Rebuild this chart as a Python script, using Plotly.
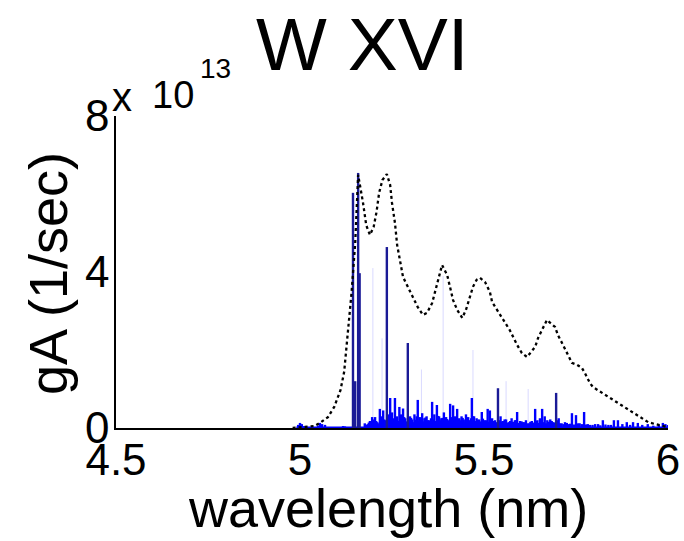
import plotly.graph_objects as go

# Strong W XVI transitions: wavelength (nm) and gA (units of 1e13 1/sec)
strong_wl = [5.144, 5.150, 5.158, 5.162, 5.236, 5.293, 5.538, 5.696]
strong_ga = [6.03, 1.20, 6.54, 3.97, 4.64, 2.18, 1.02, 0.90]

# Weaker transitions
weak_wl = [4.995, 5.000, 5.005, 5.010, 5.049, 5.054, 5.060, 5.068, 5.117, 5.122,
           5.176, 5.184, 5.190, 5.196, 5.200, 5.204, 5.210, 5.217, 5.222, 5.226,
           5.231, 5.242, 5.245, 5.250, 5.258, 5.263, 5.270, 5.275, 5.280, 5.286,
           5.299, 5.305, 5.311, 5.320, 5.326, 5.332, 5.338, 5.344, 5.350, 5.359,
           5.365, 5.372, 5.378, 5.384, 5.391, 5.397, 5.403, 5.408, 5.416, 5.421,
           5.427, 5.433, 5.439, 5.445, 5.451, 5.457, 5.462, 5.467, 5.473, 5.480,
           5.487, 5.494, 5.501, 5.510, 5.516, 5.522, 5.530, 5.545, 5.552, 5.560,
           5.568, 5.575, 5.584, 5.590, 5.598, 5.606, 5.614, 5.622, 5.630, 5.639,
           5.645, 5.652, 5.658, 5.665, 5.672, 5.680, 5.688, 5.703, 5.711, 5.720,
           5.730, 5.739, 5.750, 5.760, 5.772, 5.782, 5.795, 5.810, 5.823, 5.838,
           5.853, 5.864, 5.876, 5.888, 5.897, 5.905, 5.918, 5.930, 5.945, 5.960,
           5.975, 5.986, 5.993, 6.000, 6.005,
           5.179, 5.187, 5.193, 5.207, 5.213, 5.229, 5.234, 5.239, 5.253, 5.267,
           5.272, 5.283, 5.289, 5.296, 5.302, 5.308, 5.314, 5.317, 5.323, 5.329,
           5.335, 5.341, 5.347, 5.353, 5.356, 5.362, 5.369, 5.375, 5.381, 5.387,
           5.394, 5.400, 5.406, 5.412, 5.418, 5.424, 5.430, 5.436, 5.442, 5.448,
           5.454, 5.460, 5.465, 5.470, 5.476, 5.483, 5.490, 5.497, 5.505, 5.513,
           5.519, 5.526, 5.534, 5.541, 5.549, 5.556, 5.564, 5.571, 5.579, 5.587,
           5.594, 5.602, 5.610, 5.618, 5.626, 5.634, 5.642, 5.649, 5.655, 5.662,
           5.668, 5.676, 5.684, 5.692, 5.699, 5.707, 5.716, 5.725, 5.734, 5.745,
           5.756, 5.766, 5.777, 5.788, 5.802, 5.816, 5.830, 5.845]
weak_ga = [0.08, 0.13, 0.10, 0.05, 0.06, 0.13, 0.10, 0.08, 0.05, 0.04,
           0.12, 0.10, 0.18, 0.28, 0.22, 0.28, 0.15, 0.49, 0.30, 0.45,
           0.20, 0.35, 0.77, 0.40, 0.77, 0.30, 0.54, 0.35, 0.50, 0.25,
           0.30, 0.22, 0.35, 0.72, 0.28, 0.38, 0.25, 0.30, 0.20, 0.67,
           0.35, 0.59, 0.30, 0.25, 0.40, 0.28, 0.20, 0.62, 0.58, 0.30,
           0.49, 0.25, 0.30, 0.22, 0.35, 0.28, 0.20, 0.77, 0.30, 0.25,
           0.22, 0.41, 0.20, 0.49, 0.45, 0.25, 0.20, 0.30, 0.18, 0.22,
           0.15, 0.25, 0.20, 0.41, 0.18, 0.15, 0.20, 0.12, 0.18, 0.49,
           0.20, 0.25, 0.49, 0.30, 0.20, 0.22, 0.15, 0.25, 0.12, 0.15,
           0.10, 0.38, 0.33, 0.12, 0.41, 0.10, 0.08, 0.10, 0.20, 0.08,
           0.20, 0.20, 0.10, 0.15, 0.08, 0.15, 0.13, 0.08, 0.10, 0.06,
           0.08, 0.13, 0.10, 0.08, 0.13,
           0.08, 0.14, 0.10, 0.18, 0.12, 0.22, 0.16, 0.20, 0.25, 0.18,
           0.22, 0.28, 0.17, 0.20, 0.26, 0.15, 0.21, 0.30, 0.19, 0.24,
           0.17, 0.27, 0.20, 0.16, 0.25, 0.22, 0.18, 0.31, 0.20, 0.26,
           0.19, 0.23, 0.17, 0.28, 0.21, 0.18, 0.24, 0.20, 0.26, 0.17,
           0.22, 0.19, 0.25, 0.30, 0.18, 0.21, 0.17, 0.24, 0.20, 0.16,
           0.22, 0.18, 0.15, 0.20, 0.17, 0.22, 0.14, 0.18, 0.16, 0.20,
           0.13, 0.17, 0.15, 0.12, 0.16, 0.14, 0.18, 0.13, 0.20, 0.15,
           0.12, 0.16, 0.18, 0.14, 0.20, 0.12, 0.10, 0.13, 0.11, 0.09,
           0.12, 0.10, 0.09, 0.08, 0.10, 0.07, 0.09, 0.08]

# Very weak (faint) transitions
faint_wl = [5.198, 5.223, 5.330, 5.389, 5.470, 5.560, 5.620]
faint_ga = [4.10, 2.30, 1.50, 3.90, 2.00, 1.20, 1.00]

# Convolved spectrum (dotted envelope)
env_wl = [4.980, 5.040, 5.054, 5.076, 5.093, 5.110, 5.120, 5.130, 5.140, 5.150,
          5.158, 5.171, 5.180, 5.190, 5.200, 5.208, 5.215, 5.224, 5.236, 5.245,
          5.250, 5.258, 5.264, 5.274, 5.280, 5.293, 5.307, 5.320, 5.334, 5.345,
          5.359, 5.367, 5.375, 5.383, 5.386, 5.400, 5.408, 5.416, 5.427, 5.441,
          5.451, 5.462, 5.470, 5.480, 5.489, 5.503, 5.516, 5.522, 5.535, 5.546,
          5.557, 5.570, 5.590, 5.603, 5.617, 5.639, 5.647, 5.658, 5.671, 5.693,
          5.701, 5.712, 5.726, 5.739, 5.753, 5.766, 5.774, 5.788, 5.796, 5.851,
          5.883, 5.905, 5.929, 5.946, 5.965, 5.996]
env_ga = [0.00, 0.05, 0.13, 0.28, 0.54, 0.97, 1.44, 2.44, 3.46, 4.74,
          6.49, 5.79, 5.20, 4.95, 5.15, 5.54, 6.03, 6.36, 6.51, 6.23,
          5.77, 5.26, 4.69, 4.18, 3.87, 3.62, 3.36, 3.10, 2.90, 2.95,
          3.20, 3.49, 3.85, 4.13, 4.18, 3.92, 3.62, 3.28, 3.03, 2.82,
          3.03, 3.36, 3.62, 3.80, 3.85, 3.74, 3.49, 3.23, 3.03, 2.85,
          2.69, 2.51, 2.13, 1.92, 1.82, 2.08, 2.31, 2.51, 2.77, 2.59,
          2.38, 2.18, 1.92, 1.67, 1.62, 1.54, 1.41, 1.15, 1.05, 0.72,
          0.54, 0.41, 0.26, 0.15, 0.10, 0.03]

x_ticks = [4.5, 5, 5.5, 6]
x_ticktext = ["4.5", "5", "5.5", "6"]
y_ticks = [0, 4, 8]
y_ticktext = ["0", "4", "8"]

# plot-area geometry in pixels
L, R, T, B = 116, 668, 116, 428
W_PX, H_PX = R - L, B - T


def sticks(wl, ga):
    xs, ys = [], []
    for w, g in zip(wl, ga):
        xs += [w, w, None]
        ys += [0, g, None]
    return xs, ys


def px(x):
    return (x - L) / W_PX


def py(y):
    return (B - y) / H_PX


FONT = "Liberation Sans, Arial, Helvetica, sans-serif"

fig = go.Figure()

fx, fy = sticks(faint_wl, faint_ga)
fig.add_trace(go.Scatter(x=fx, y=fy, mode="lines",
                         line=dict(color="rgba(120,120,255,0.28)", width=1),
                         hoverinfo="skip", showlegend=False))

wx, wy = sticks(weak_wl, weak_ga)
fig.add_trace(go.Scatter(x=wx, y=wy, mode="lines",
                         line=dict(color="#0000ff", width=2.4),
                         showlegend=False))

# blue baseline of the line spectrum
fig.add_trace(go.Scatter(x=[4.99, 6.005], y=[0, 0], mode="lines",
                         line=dict(color="#0000ff", width=3),
                         showlegend=False))

sx, sy = sticks(strong_wl, strong_ga)
fig.add_trace(go.Scatter(x=sx, y=sy, mode="lines",
                         line=dict(color="#1a1a96", width=2.4),
                         showlegend=False))

fig.add_trace(go.Scatter(x=env_wl, y=env_ga, mode="lines",
                         line=dict(color="black", width=2.3, dash="dot"),
                         showlegend=False))

fig.update_layout(
    width=684, height=541,
    margin=dict(l=L, r=684 - R, t=T, b=541 - B),
    paper_bgcolor="white", plot_bgcolor="white",
    font=dict(family=FONT, color="black"),
    showlegend=False,
    xaxis=dict(range=[4.5, 6], tickvals=x_ticks, ticktext=x_ticktext,
               showgrid=False, zeroline=False, showline=True,
               linecolor="black", linewidth=1.5, ticks="", automargin=False,
               ticklabelstandoff=-8,
               tickfont=dict(size=44, family=FONT)),
    yaxis=dict(range=[0, 8], tickvals=y_ticks, ticktext=y_ticktext,
               showgrid=False, zeroline=False, showline=True,
               linecolor="black", linewidth=1.5, ticks="", automargin=False,
               ticklabelstandoff=-4,
               tickfont=dict(size=44, family=FONT)),
    annotations=[
        dict(text="W XVI", xref="paper", yref="paper",
             x=px(362), y=py(44), xanchor="center", yanchor="middle",
             showarrow=False, font=dict(size=75, family=FONT)),
        dict(text="x", xref="paper", yref="paper",
             x=px(110), y=py(97), xanchor="left", yanchor="middle",
             showarrow=False, font=dict(size=40, family=FONT)),
        dict(text="10", xref="paper", yref="paper",
             x=px(150), y=py(95), xanchor="left", yanchor="middle",
             showarrow=False, font=dict(size=38, family=FONT)),
        dict(text="13", xref="paper", yref="paper",
             x=px(198), y=py(68), xanchor="left", yanchor="middle",
             showarrow=False, font=dict(size=28, family=FONT)),
        dict(text="wavelength (nm)", xref="paper", yref="paper",
             x=px(388), y=py(508), xanchor="center", yanchor="middle",
             showarrow=False, font=dict(size=54, family=FONT)),
        dict(text="gA (1/sec)", xref="paper", yref="paper",
             x=px(48), y=py(274), xanchor="center", yanchor="middle",
             textangle=-90, showarrow=False, font=dict(size=54, family=FONT)),
    ],
)

fig.write_html("out.html")
